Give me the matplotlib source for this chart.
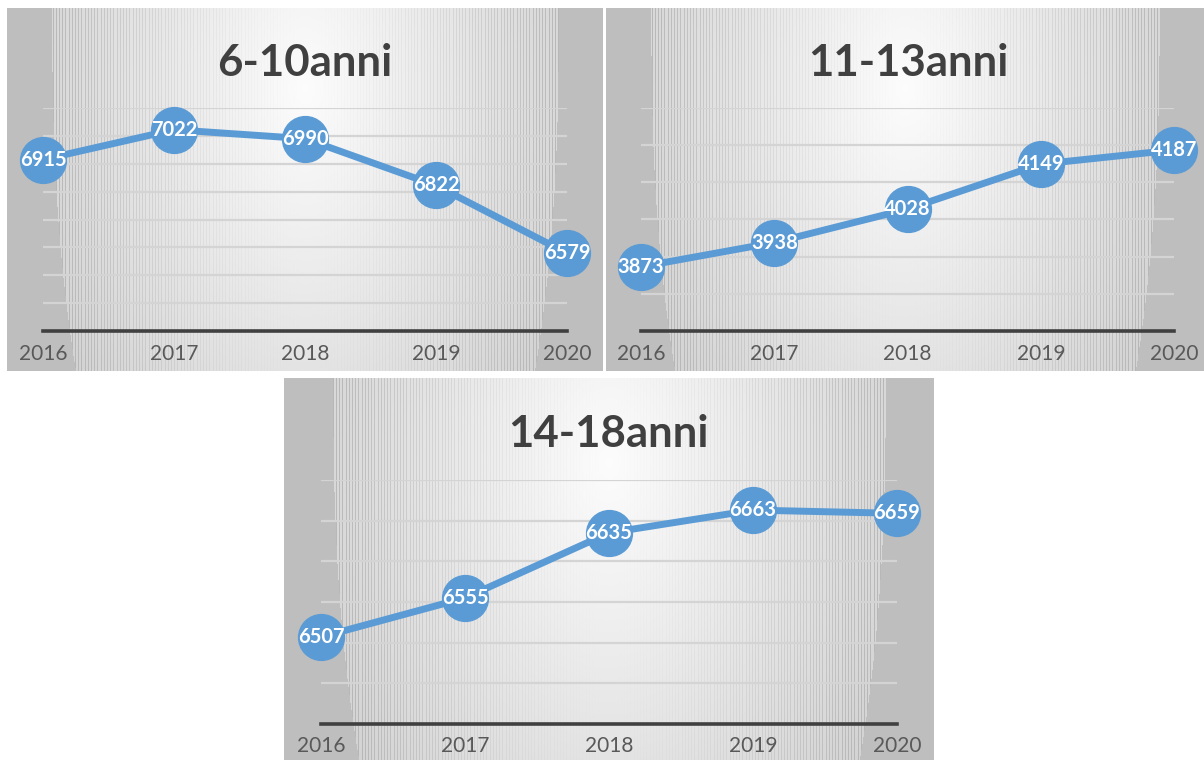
import numpy as np
import matplotlib
matplotlib.use("Agg")
import matplotlib.pyplot as plt

# ---- data ----
years = [2016, 2017, 2018, 2019, 2020]
titles = ["6-10anni", "11-13anni", "14-18anni"]
vals_6_10 = [6915, 7022, 6990, 6822, 6579]
vals_11_13 = [3873, 3938, 4028, 4149, 4187]
vals_14_18 = [6507, 6555, 6635, 6663, 6659]
ylims = [(6300, 7100), (3700, 4300), (6400, 6700)]
ysteps = [100, 100, 50]

W, H = 1204, 760
fig = plt.figure(figsize=(W / 100, H / 100), dpi=100)
fig.patch.set_facecolor("white")

FONT = "Lato"
BLUE = "#5B9BD5"


def fx(x):
    return x / W


def fy(y):
    return 1 - y / H


def background(px0, py0, px1, py1):
    w, h = px1 - px0, py1 - py0
    ax = fig.add_axes([fx(px0), fy(py1), fx(w), h / H])
    xs = np.arange(w)
    ys = np.arange(h)
    X, Y = np.meshgrid(xs, ys)
    u = (X - w / 2) / (w / 2)
    v = Y / h
    hw = 0.85 - 0.08 * v ** 2.5
    d = np.sqrt((u / 0.85) ** 2 + ((v - 0.22) / 1.1) ** 2)
    inner = 0.99 - 0.14 * d
    stripe = 0.16 * np.abs(u) ** 1.3 * (np.sin(X * 2 * np.pi / 3.2) > 0.4)
    inner = inner - stripe
    img = np.where(np.abs(u) < hw, inner, 0.749)
    img = np.clip(img, 0, 1)
    rgb = np.dstack([img, img, img])
    ax.imshow(rgb, aspect="auto", interpolation="nearest", extent=[0, 1, 0, 1])
    ax.set_axis_off()


def panel(rect, vals, title, ylim, ystep, title_xy, pad):
    x0, ytop, x1, ybot = rect
    ax = fig.add_axes([fx(x0), fy(ybot), fx(x1 - x0), (ybot - ytop) / H])
    ax.set_facecolor("none")
    ax.set_xlim(years[0], years[-1])
    ax.set_ylim(*ylim)
    for gy in np.arange(ylim[0] + ystep, ylim[1] + ystep / 2, ystep):
        ax.axhline(gy, color="#D4D4D4", lw=1.6, zorder=1)
    ax.plot(years, vals, color=BLUE, lw=5, marker="o", ms=33,
            markerfacecolor=BLUE, markeredgecolor=BLUE, zorder=3,
            clip_on=False, solid_capstyle="round")
    for xv, yv in zip(years, vals):
        ax.text(xv, yv, str(yv), color="white", fontsize=14.5, fontweight="bold",
                family=FONT, ha="center", va="center", zorder=4, clip_on=False)
    for s in ["top", "right", "left"]:
        ax.spines[s].set_visible(False)
    ax.spines["bottom"].set_color("#404040")
    ax.spines["bottom"].set_linewidth(2.6)
    ax.spines["bottom"].set_zorder(2)
    ax.set_yticks([])
    ax.set_xticks(years)
    ax.set_xticklabels([str(y) for y in years], family=FONT, fontsize=15,
                       color="#595959")
    ax.tick_params(axis="x", length=0, pad=pad)
    fig.text(fx(title_xy[0]), fy(title_xy[1]), title, family=FONT,
             fontweight="bold", fontsize=31.5, color="#404040",
             ha="center", va="center")


# panel backgrounds
background(7, 8, 603, 371)
background(606, 8, 1204, 371)
background(284, 378, 934, 760)

panel((43, 108, 567, 331), vals_6_10, titles[0], ylims[0], ysteps[0], (305, 63), 9)
panel((641, 108, 1174, 331), vals_11_13, titles[1], ylims[1], ysteps[1], (908, 63), 9)
panel((321, 480, 897, 724), vals_14_18, titles[2], ylims[2], ysteps[2], (608, 434), 9)

fig.savefig("out.png", dpi=100, facecolor="white")
